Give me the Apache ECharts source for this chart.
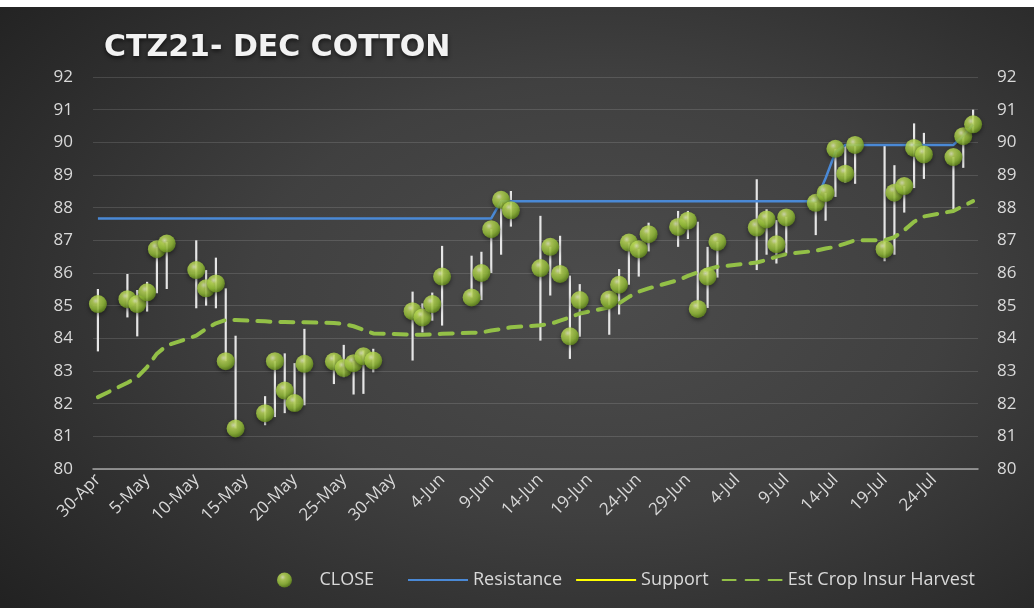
<!DOCTYPE html>
<html lang="en">
<head>
<meta charset="UTF-8">
<title>CTZ21- DEC COTTON</title>
<script src="https://cdn.jsdelivr.net/npm/echarts@6/dist/echarts.min.js"></script>
<style>
  html, body { margin: 0; height: 100%; background: #ffffff; }
  #container {
    position: absolute; left: 0; top: 7px; width: 1034px; height: 601px;
    background: radial-gradient(ellipse 75% 80% at 58% 48%, #4c4c4c 0%, #404040 45%, #2a2a2a 85%, #222222 100%);
  }
</style>
</head>
<body>
<div id="container"></div>
<script type="text/javascript">
// trading days (2021)
var tradeDays = ['30-Apr','3-May','4-May','5-May','6-May','7-May','10-May','11-May','12-May','13-May','14-May',
  '17-May','18-May','19-May','20-May','21-May','24-May','25-May','26-May','27-May','28-May',
  '1-Jun','2-Jun','3-Jun','4-Jun','7-Jun','8-Jun','9-Jun','10-Jun','11-Jun',
  '14-Jun','15-Jun','16-Jun','17-Jun','18-Jun','21-Jun','22-Jun','23-Jun','24-Jun','25-Jun',
  '28-Jun','29-Jun','30-Jun','1-Jul','2-Jul','6-Jul','7-Jul','8-Jul','9-Jul',
  '12-Jul','13-Jul','14-Jul','15-Jul','16-Jul','19-Jul','20-Jul','21-Jul','22-Jul','23-Jul',
  '26-Jul','27-Jul','28-Jul'];

var closeVals = [85.05,85.2,85.05,85.41,86.73,86.9,86.09,85.53,85.68,83.3,81.24,
  81.71,83.3,82.4,82.02,83.22,83.29,83.09,83.24,83.45,83.32,
  84.83,84.64,85.05,85.89,85.25,86.0,87.34,88.24,87.92,
  86.15,86.8,85.97,84.06,85.17,85.19,85.64,86.93,86.73,87.19,
  87.41,87.6,84.9,85.89,86.95,87.39,87.64,86.88,87.7,
  88.15,88.45,89.8,89.04,89.92,86.73,88.46,88.66,89.83,89.63,
  89.55,90.19,90.55];

var highVals = [85.51,85.97,85.48,85.73,86.8,86.95,87.0,86.09,86.47,85.53,84.08,
  82.23,83.3,83.54,83.24,84.29,83.5,83.8,83.3,83.63,83.68,
  85.43,85.07,85.4,86.83,86.53,86.65,87.34,88.24,88.51,
  87.75,86.8,87.14,85.92,85.66,85.36,86.12,86.93,86.73,87.54,
  87.9,87.9,87.57,86.8,86.95,88.87,87.95,87.62,87.72,
  88.15,88.45,89.8,89.9,89.92,89.89,89.3,88.66,90.58,90.29,
  89.55,90.19,91.0];

var lowVals = [83.6,84.64,84.06,84.82,85.38,85.51,84.92,85.0,84.92,83.3,81.24,
  81.34,81.59,81.71,81.78,81.95,82.6,82.81,82.28,82.3,82.96,
  83.32,84.18,84.54,84.39,85.25,85.17,86.0,86.56,87.42,
  83.93,85.31,85.97,83.37,84.05,84.11,84.73,85.64,85.89,86.66,
  86.8,87.04,84.9,84.93,85.86,86.09,86.56,86.29,86.6,
  87.16,87.6,88.33,88.76,88.73,86.36,86.56,87.85,88.6,88.88,
  87.95,89.22,90.3];

var resistanceVals = [87.67,87.67,87.67,87.67,87.67,87.67,87.67,87.67,87.67,87.67,87.67,
  87.67,87.67,87.67,87.67,87.67,87.67,87.67,87.67,87.67,87.67,
  87.67,87.67,87.67,87.67,87.67,87.67,87.67,88.2,88.2,
  88.2,88.2,88.2,88.2,88.2,88.2,88.2,88.2,88.2,88.2,
  88.2,88.2,88.2,88.2,88.2,88.2,88.2,88.2,88.2,
  88.2,88.9,89.7,89.92,89.92,89.92,89.92,89.92,89.92,89.92,
  89.92,90.2,90.55];

var harvestVals = [82.2,82.64,82.81,83.12,83.53,83.78,84.08,84.29,84.46,84.56,84.56,
  84.52,84.5,84.5,84.49,84.49,84.47,84.44,84.37,84.26,84.15,
  84.11,84.11,84.12,84.14,84.17,84.18,84.24,84.28,84.34,
  84.4,84.44,84.54,84.64,84.76,84.95,85.07,85.27,85.43,85.53,
  85.78,85.91,86.02,86.11,86.19,86.32,86.4,86.5,86.58,
  86.68,86.75,86.8,86.9,87.0,87.0,87.1,87.31,87.57,87.73,
  87.9,88.05,88.2];

var supportVals = [];

// calendar axis 30-Apr .. 28-Jul, one category per day
var months = ['Apr','May','Jun','Jul'];
var monthDays = [30,31,30,31];
var calendarDays = [];
for (var m = 0; m < months.length; m++) {
  var start = m === 0 ? 30 : 1;
  for (var d = start; d <= monthDays[m]; d++) {
    calendarDays.push(d + '-' + months[m]);
    if (months[m] === 'Jul' && d === 28) break;
  }
}

function pairs(vals) {
  return tradeDays.map(function (day, i) { return [day, vals[i]]; });
}

var hiLow = tradeDays.map(function (day, i) { return [day, highVals[i], lowVals[i]]; });

var dom = document.getElementById('container');
var myChart = echarts.init(dom);
var labelColor = '#d9d9d9';
var fontName = '"Open Sans", "DejaVu Sans", sans-serif';

var sphere = {
  type: 'radial', x: 0.38, y: 0.32, r: 0.72,
  colorStops: [
    {offset: 0, color: '#f2fbc6'},
    {offset: 0.25, color: '#c4e35e'},
    {offset: 0.65, color: '#9ac53a'},
    {offset: 1, color: '#5e8419'}
  ]
};

// hide the little marker that echarts puts on line legend icons
var noMarker = {color: 'rgba(0,0,0,0)', borderColor: 'rgba(0,0,0,0)', borderWidth: 0};

var option = {
  backgroundColor: 'transparent',
  animation: false,
  title: {
    text: 'CTZ21- DEC COTTON',
    left: 99,
    top: 21,
    textStyle: {
      color: '#f2f2f2',
      fontSize: 30,
      fontWeight: 'bold',
      fontFamily: '"DejaVu Sans", sans-serif',
      textShadowColor: 'rgba(0,0,0,0.6)',
      textShadowBlur: 4,
      textShadowOffsetY: 2
    }
  },
  legend: [
    {
      data: ['CLOSE'],
      left: 272,
      top: 559,
      itemWidth: 60,
      itemHeight: 15,
      textStyle: {color: labelColor, fontSize: 18, fontFamily: fontName}
    },
    {
      data: [
        {name: 'Resistance', itemStyle: noMarker},
        {name: 'Support', itemStyle: noMarker},
        {name: 'Est Crop Insur Harvest', itemStyle: noMarker}
      ],
      left: 402,
      top: 559,
      itemWidth: 60,
      itemHeight: 15,
      itemGap: 13,
      textStyle: {color: labelColor, fontSize: 18, fontFamily: fontName}
    }
  ],
  grid: {left: 93, right: 56, top: 70, bottom: 139},
  xAxis: {
    type: 'category',
    data: calendarDays,
    boundaryGap: true,
    axisLine: {lineStyle: {color: '#a6a6a6', width: 1.5}},
    axisTick: {interval: 4, length: 5, lineStyle: {color: '#a6a6a6'}},
    axisLabel: {
      interval: 4,
      rotate: 45,
      color: labelColor,
      fontSize: 17,
      fontFamily: fontName,
      margin: 8
    },
    splitLine: {show: false}
  },
  yAxis: [
    {
      type: 'value', min: 80, max: 92, interval: 1,
      axisLine: {show: false}, axisTick: {show: false},
      axisLabel: {color: labelColor, fontSize: 17, fontFamily: fontName, margin: 20},
      splitLine: {lineStyle: {color: 'rgba(255,255,255,0.13)', width: 1.2}}
    },
    {
      type: 'value', min: 80, max: 92, interval: 1, position: 'right',
      axisLine: {show: false}, axisTick: {show: false},
      axisLabel: {color: labelColor, fontSize: 17, fontFamily: fontName, margin: 19},
      splitLine: {show: false}
    }
  ],
  series: [
    {
      name: 'HighLow',
      type: 'custom',
      z: 1,
      data: hiLow,
      renderItem: function (params, api) {
        var top = api.coord([api.value(0), api.value(1)]);
        var bottom = api.coord([api.value(0), api.value(2)]);
        return {
          type: 'line',
          shape: {x1: top[0], y1: top[1], x2: bottom[0], y2: bottom[1]},
          style: {stroke: '#e6e6e6', lineWidth: 2.2}
        };
      }
    },
    {
      name: 'Resistance',
      type: 'line',
      z: 2,
      data: pairs(resistanceVals),
      symbol: 'none',
      itemStyle: {color: '#4a89d6'},
      lineStyle: {color: '#4a89d6', width: 2.5}
    },
    {
      name: 'Support',
      type: 'line',
      z: 2,
      data: supportVals,
      symbol: 'none',
      itemStyle: {color: '#ffff00'},
      lineStyle: {color: '#ffff00', width: 2.5}
    },
    {
      name: 'Est Crop Insur Harvest',
      type: 'line',
      z: 2,
      data: pairs(harvestVals),
      symbol: 'none',
      itemStyle: {color: '#93c047'},
      lineStyle: {color: '#93c047', width: 4, type: [13, 10], cap: 'round'}
    },
    {
      name: 'CLOSE',
      type: 'scatter',
      z: 3,
      data: pairs(closeVals),
      symbol: 'circle',
      symbolSize: 18,
      itemStyle: {
        color: sphere,
        shadowColor: 'rgba(0,0,0,0.55)',
        shadowBlur: 4,
        shadowOffsetY: 2
      }
    }
  ]
};

myChart.setOption(option);
</script>
</body>
</html>
